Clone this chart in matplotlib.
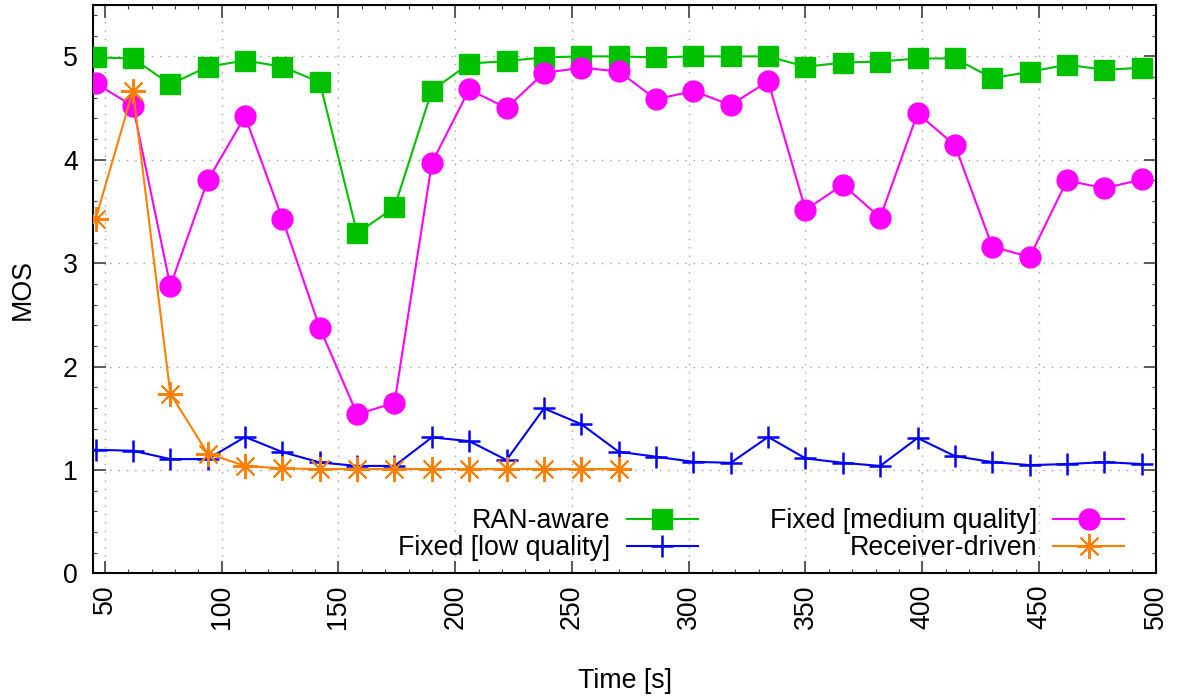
import matplotlib
matplotlib.use("Agg")
import matplotlib.pyplot as plt
from matplotlib.ticker import MultipleLocator

plt.rcParams['font.family'] = ['Liberation Sans', 'DejaVu Sans']

# Sampling instants (seconds)
time_s = [46, 62, 78, 94, 110, 126, 142, 158, 174, 190, 206, 222, 238, 254, 270,
          286, 302, 318, 334, 350, 366, 382, 398, 414, 430, 446, 462, 478, 494]

# MOS per strategy
mos_ran_aware = [4.99, 4.98, 4.73, 4.90, 4.96, 4.90, 4.75, 3.29, 3.54, 4.67,
                 4.93, 4.955, 4.99, 5.00, 5.00, 4.99, 5.00, 5.00, 5.00, 4.90,
                 4.94, 4.95, 4.98, 4.98, 4.79, 4.85, 4.92, 4.87, 4.89]
mos_fixed_low = [1.196, 1.187, 1.106, 1.106, 1.32, 1.174, 1.074, 1.04, 1.04, 1.316,
                 1.28, 1.097, 1.596, 1.444, 1.177, 1.129, 1.08, 1.07, 1.32, 1.113,
                 1.07, 1.04, 1.31, 1.135, 1.077, 1.048, 1.058, 1.077, 1.058]
mos_fixed_medium = [4.74, 4.52, 2.78, 3.80, 4.42, 3.43, 2.375, 1.54, 1.65, 3.97,
                    4.68, 4.50, 4.84, 4.89, 4.855, 4.585, 4.665, 4.53, 4.76, 3.515,
                    3.76, 3.44, 4.45, 4.14, 3.16, 3.06, 3.80, 3.725, 3.81]
mos_receiver = [3.425, 4.67, 1.74, 1.16, 1.04, 1.016, 1.01, 1.01, 1.01, 1.01,
                1.01, 1.01, 1.01, 1.01, 1.01]

FS = 19.3

fig = plt.figure(figsize=(11.82, 6.97), dpi=100)
ax = fig.add_axes([0.0789, 0.1772, 0.8989, 0.8161])

lw = 1.5
ax.plot(time_s, mos_ran_aware, color='#00c000', lw=lw, marker='s', ms=15,
        mec='#00c000', label='RAN-aware', zorder=3)
ax.plot(time_s, mos_fixed_low, color='#0000ff', lw=lw, marker='+', ms=16,
        mew=1.8, label='Fixed [low quality]', zorder=4)
ax.plot(time_s, mos_fixed_medium, color='#ff00ff', lw=lw, marker='o', ms=15,
        mec='#ff00ff', label='Fixed [medium quality]', zorder=3)
ax.plot(time_s[:len(mos_receiver)], mos_receiver, color='#ff8000', lw=lw,
        marker=(8, 2, 0), ms=18, mew=1.4, label='Receiver-driven', zorder=4)

ax.set_xlim(45, 500)
ax.set_ylim(0, 5.5)
ax.xaxis.set_major_locator(MultipleLocator(50))
ax.xaxis.set_minor_locator(MultipleLocator(10))
ax.yaxis.set_major_locator(MultipleLocator(1))
ax.yaxis.set_minor_locator(MultipleLocator(0.2))

ax.tick_params(which='major', direction='in', length=9, width=1.2,
               top=True, right=True, labelsize=FS, color='#404040')
ax.tick_params(which='minor', direction='in', length=3, width=0.8,
               top=True, right=True, color='#404040')
ax.tick_params(axis='x', labelrotation=90, pad=8)
ax.tick_params(axis='y', pad=11)

ax.grid(True, which='major', color='#a0a0a0', linestyle=(0, (1, 5)), lw=1.0)
for s in ax.spines.values():
    s.set_linewidth(1.5)

ax.set_xlabel('Time [s]', fontsize=FS, labelpad=28)
ax.set_ylabel('MOS', fontsize=FS, labelpad=20)

ax.legend(ncol=2, loc='lower right', bbox_to_anchor=(0.9755, 0.012),
          frameon=False, fontsize=FS, markerfirst=False, handlelength=2.65,
          handletextpad=0.6, columnspacing=2.7, labelspacing=0.05,
          borderpad=0.2, borderaxespad=0.0)

fig.savefig('out.png', dpi=100)
